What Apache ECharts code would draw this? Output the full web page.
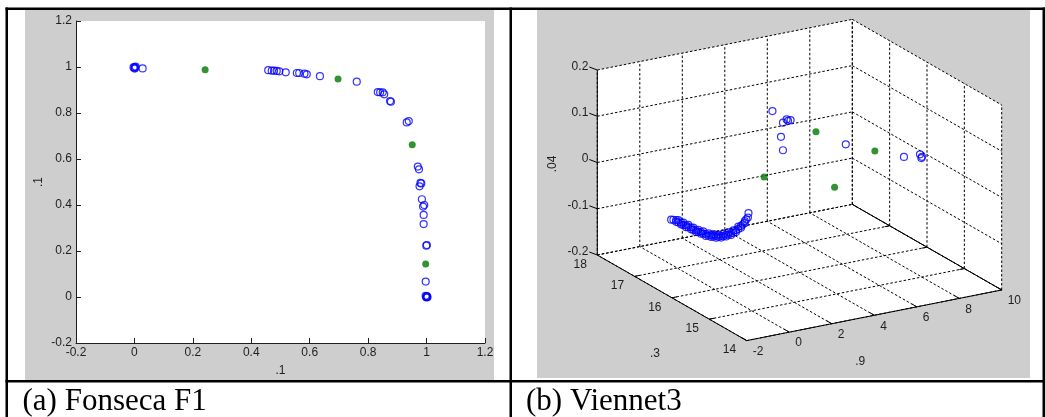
<!DOCTYPE html>
<html>
<head>
<meta charset="utf-8">
<title>Fonseca F1 / Viennet3</title>
<script src="https://cdn.jsdelivr.net/npm/echarts@6/dist/echarts.min.js"></script>
<style>
  html, body { margin: 0; padding: 0; background: #ffffff; }
  #chart { width: 1045px; height: 417px; }
</style>
</head>
<body>
<div id="chart"></div>
<script>
// ---------- (a) Fonseca F1: objective values ----------
// candidate solutions (open blue circles)
const fonsecaF1 = [0.000, 0.002, -0.003, 0.004, 0.001, 0.028, 0.458, 0.470, 0.478, 0.487, 0.496, 0.518,
  0.556, 0.564, 0.582, 0.590, 0.635, 0.761, 0.833, 0.841, 0.850, 0.855, 0.875, 0.878,
  0.932, 0.939, 0.970, 0.974, 0.979, 0.982, 0.976, 0.984, 0.992, 0.988, 0.990, 0.990,
  0.999, 1.001, 0.997, 1.000, 0.997, 1.002, 0.999, 1.003, 1.001];
const fonsecaF2 = [1.000, 0.996, 0.998, 1.002, 0.993, 0.994, 0.986, 0.984, 0.984, 0.983, 0.981, 0.977,
  0.974, 0.974, 0.971, 0.968, 0.960, 0.936, 0.891, 0.890, 0.890, 0.881, 0.852, 0.849,
  0.759, 0.765, 0.567, 0.555, 0.496, 0.494, 0.481, 0.425, 0.400, 0.393, 0.357, 0.317,
  0.223, 0.226, 0.067, 0.000, 0.005, 0.002, -0.002, -0.001, 0.004];
// selected solutions (filled green dots)
const fonsecaSelF1 = [0.242, 0.697, 0.951, 0.997];
const fonsecaSelF2 = [0.988, 0.948, 0.662, 0.143];
const fonsecaTicks = [-0.2, 0, 0.2, 0.4, 0.6, 0.8, 1, 1.2];

// ---------- (b) Viennet3: objective values ----------
const viennetF1 = [
  0.00, 0.04, 0.08, 0.12, 0.16, 0.20, 0.24, 0.28, 0.32, 0.36, 0.40, 0.44, 0.48, 0.52, 0.56, 0.60, 0.64,
  0.04, 0.08, 0.12, 0.16, 0.20, 0.24, 0.28, 0.32, 0.36, 0.40, 0.44, 0.48, 0.52, 0.56, 0.60,
  0.02, 0.06, 0.10, 0.14, 0.18, 0.22, 0.26, 0.30, 0.34, 0.38, 0.42, 0.46, 0.50, 0.54, 0.58, 0.62,
  0.06, 0.10, 0.14, 0.18, 0.22, 0.26, 0.30, 0.34, 0.38, 0.42, 0.46, 0.50, 0.54,
  0.65,
  1.90, 1.60, 1.50, 1.70, 1.65, 1.30, 1.20, 5.00, 7.00, 8.00, 8.20, 8.10];
const viennetF2 = [
  17.16, 17.05, 16.94, 16.83, 16.72, 16.61, 16.50, 16.39, 16.27, 16.16, 16.05, 15.94, 15.83, 15.72, 15.61, 15.53, 15.47,
  17.05, 16.94, 16.83, 16.72, 16.61, 16.50, 16.39, 16.27, 16.16, 16.05, 15.94, 15.83, 15.72, 15.61, 15.53,
  17.11, 17.00, 16.89, 16.78, 16.67, 16.56, 16.45, 16.33, 16.22, 16.11, 16.00, 15.89, 15.78, 15.67, 15.57, 15.50,
  17.00, 16.89, 16.78, 16.67, 16.56, 16.45, 16.33, 16.22, 16.11, 16.00, 15.89, 15.78, 15.67,
  15.46,
  15.53, 14.98, 15.02, 14.93, 14.97, 14.96, 14.85, 15.33, 14.91, 15.05, 15.11, 15.07];
const viennetF3 = [
  -0.103, -0.103, -0.104, -0.105, -0.105, -0.106, -0.105, -0.105, -0.102, -0.099, -0.094, -0.087, -0.079, -0.068, -0.054, -0.040, -0.026,
  -0.099, -0.100, -0.101, -0.101, -0.102, -0.101, -0.101, -0.098, -0.095, -0.090, -0.083, -0.075, -0.064, -0.050, -0.036,
  -0.101, -0.102, -0.103, -0.103, -0.104, -0.104, -0.103, -0.102, -0.099, -0.095, -0.089, -0.081, -0.072, -0.059, -0.045, -0.031,
  -0.097, -0.098, -0.098, -0.099, -0.099, -0.098, -0.097, -0.094, -0.090, -0.084, -0.076, -0.067, -0.054,
  -0.016,
  0.190, 0.200, 0.192, 0.200, 0.197, 0.166, 0.143, 0.099, 0.073, 0.063, 0.053, 0.053];
const viennetSelF1 = [3.00, 6.00, 1.00, 4.00];
const viennetSelF2 = [14.99, 15.12, 15.24, 15.06];
const viennetSelF3 = [0.160, 0.085, 0.069, 0.028];
const viennetXTicks = [-2, 0, 2, 4, 6, 8, 10];
const viennetYTicks = [14, 15, 16, 17, 18];
const viennetZTicks = [-0.2, -0.1, 0, 0.1, 0.2];

// ---------- styling ----------
const TICK_FAMILY = '"Liberation Sans", Arial, sans-serif';
const TICK_FONT = '12px ' + TICK_FAMILY;
const CAPTION_FONT = '31px "Liberation Serif", "Times New Roman", serif';
const INK = '#1e1e1e';
const PANEL_GRAY = '#cecece';
const BLUE = '#0000ff';
const GREEN = '#007800';

// ---------- orthographic view of the Viennet3 box ----------
// Box limits and the on-screen step for one unit along each data axis,
// measured from the corner (x min, y max, z min) in grid units (= pixels).
const BOX = { x: [-2, 10], y: [14, 18], z: [-0.2, 0.2] };
const VIEW = { origin: [60.3, 245], ex: [21.25, -4.22], ey: [-37.35, -21.4], ez: [0, -462.5] };
const CUBE_GRID = { left: 537, top: 10, width: 493, height: 368 };

function project(x, y, z) {
  const dx = x - BOX.x[0], dy = y - BOX.y[1], dz = z - BOX.z[0];
  return [
    VIEW.origin[0] + VIEW.ex[0] * dx + VIEW.ey[0] * dy + VIEW.ez[0] * dz,
    VIEW.origin[1] + VIEW.ex[1] * dx + VIEW.ey[1] * dy + VIEW.ez[1] * dz
  ];
}

// box panes, dotted grid, axis lines, ticks and tick labels
const frame = [];
(function buildFrame() {
  const [x0, x1] = BOX.x, [y0, y1] = BOX.y, [z0, z1] = BOX.z;
  frame.push({ t: 'pane', p: [[x0, y0, z0], [x1, y0, z0], [x1, y1, z0], [x0, y1, z0]] });
  frame.push({ t: 'pane', p: [[x0, y1, z0], [x1, y1, z0], [x1, y1, z1], [x0, y1, z1]] });
  frame.push({ t: 'pane', p: [[x1, y0, z0], [x1, y1, z0], [x1, y1, z1], [x1, y0, z1]] });
  viennetXTicks.forEach(x => {
    frame.push({ t: 'grid', a: [x, y0, z0], b: [x, y1, z0] });
    frame.push({ t: 'grid', a: [x, y1, z0], b: [x, y1, z1] });
  });
  viennetYTicks.forEach(y => {
    frame.push({ t: 'grid', a: [x0, y, z0], b: [x1, y, z0] });
    frame.push({ t: 'grid', a: [x1, y, z0], b: [x1, y, z1] });
  });
  viennetZTicks.forEach(z => {
    frame.push({ t: 'grid', a: [x0, y1, z], b: [x1, y1, z] });
    frame.push({ t: 'grid', a: [x1, y1, z], b: [x1, y0, z] });
  });
  frame.push({ t: 'axis', a: [x0, y1, z0], b: [x0, y1, z1] });
  frame.push({ t: 'axis', a: [x0, y1, z0], b: [x0, y0, z0] });
  frame.push({ t: 'axis', a: [x0, y0, z0], b: [x1, y0, z0] });
  frame.push({ t: 'axis', a: [x1, y1, z0], b: [x1, y0, z0] });
  viennetZTicks.forEach(z => {
    frame.push({ t: 'tick', a: [x0, y1, z], d: [-8, -3] });
    frame.push({ t: 'text', a: [x0, y1, z], off: [-9, -3.5], s: String(z), align: 'right' });
  });
  viennetXTicks.forEach(x => {
    frame.push({ t: 'tick', a: [x, y0, z0], d: [-5, -3] });
    frame.push({ t: 'text', a: [x, y0, z0], off: [6, 11], s: String(x), align: 'left' });
  });
  viennetYTicks.forEach(y => {
    if (y > y0 && y < y1) {
      frame.push({ t: 'tick', a: [x0, y, z0], d: [5, -1] });
      frame.push({ t: 'tick', a: [x1, y, z0], d: [-5, 1] });
    }
    frame.push({ t: 'text', a: [x0, y, z0], off: [-10.5, 9.5], s: String(y), align: 'right' });
  });
  frame.push({ t: 'text', a: [(x0 + x1) / 2, y0, z0], off: [-14, 46], s: '.9', align: 'center' });
  frame.push({ t: 'text', a: [x0, (y0 + y1) / 2, z0], off: [-17, 56], s: '.3', align: 'center' });
  frame.push({ t: 'text', a: [x0, y1, (z0 + z1) / 2], off: [-44.6, 1.5], s: '.04', align: 'center', rot: Math.PI / 2 });
})();

function renderFrame(params, api) {
  const d = frame[params.dataIndex];
  const P = c => api.coord(project(c[0], c[1], c[2]));
  if (d.t === 'pane') {
    return { type: 'polygon', silent: true, shape: { points: d.p.map(P) }, style: { fill: '#ffffff' } };
  }
  if (d.t === 'grid' || d.t === 'axis') {
    const a = P(d.a), b = P(d.b);
    return {
      type: 'line', silent: true,
      shape: { x1: a[0], y1: a[1], x2: b[0], y2: b[1] },
      style: d.t === 'grid'
        ? { stroke: '#000000', lineWidth: 1, lineDash: [2.5, 2] }
        : { stroke: '#000000', lineWidth: 1 }
    };
  }
  if (d.t === 'tick') {
    const a = P(d.a);
    return {
      type: 'line', silent: true,
      shape: { x1: a[0], y1: a[1], x2: a[0] + d.d[0], y2: a[1] + d.d[1] },
      style: { stroke: '#000000', lineWidth: 1 }
    };
  }
  const a = P(d.a);
  return {
    type: 'text', silent: true,
    x: a[0] + d.off[0], y: a[1] + d.off[1], rotation: d.rot || 0,
    style: { text: d.s, fill: INK, font: TICK_FONT, align: d.align, verticalAlign: 'middle' }
  };
}

const zip2 = (a, b) => a.map((v, i) => [v, b[i]]);
const cube = (a, b, c) => a.map((v, i) => project(v, b[i], c[i]));

const openCircle = { color: 'rgba(0,0,0,0)', borderColor: BLUE, borderWidth: 1.2 };
const greenDot = { color: GREEN };

const fmt = v => String(+v.toFixed(1));

const option = {
  animation: false,
  backgroundColor: '#ffffff',
  graphic: [
    { type: 'rect', z: -10, silent: true, shape: { x: 25, y: 10, width: 469, height: 370 }, style: { fill: PANEL_GRAY } },
    { type: 'rect', z: -9, silent: true, shape: { x: 76, y: 21, width: 409, height: 322 }, style: { fill: '#ffffff' } },
    { type: 'rect', z: -10, silent: true, shape: { x: CUBE_GRID.left, y: CUBE_GRID.top, width: CUBE_GRID.width, height: CUBE_GRID.height }, style: { fill: PANEL_GRAY } },
    // table rules
    { type: 'rect', z: 50, silent: true, shape: { x: 5.5, y: 7.5, width: 1039.5, height: 2.5 }, style: { fill: '#000000' } },
    { type: 'rect', z: 50, silent: true, shape: { x: 5.5, y: 380, width: 1039.5, height: 2.5 }, style: { fill: '#000000' } },
    { type: 'rect', z: 50, silent: true, shape: { x: 5.5, y: 7.5, width: 2.5, height: 409.5 }, style: { fill: '#000000' } },
    { type: 'rect', z: 50, silent: true, shape: { x: 509.5, y: 7.5, width: 2.5, height: 409.5 }, style: { fill: '#000000' } },
    { type: 'rect', z: 50, silent: true, shape: { x: 1042.5, y: 7.5, width: 2.5, height: 409.5 }, style: { fill: '#000000' } },
    // captions
    { type: 'text', z: 50, silent: true, x: 22.5, y: 401.5, style: { text: '(a) Fonseca F1', font: CAPTION_FONT, fill: '#000000', align: 'left', verticalAlign: 'middle' } },
    { type: 'text', z: 50, silent: true, x: 526, y: 401.5, style: { text: '(b) Viennet3', font: CAPTION_FONT, fill: '#000000', align: 'left', verticalAlign: 'middle' } }
  ],
  grid: [
    { left: 76, top: 21, width: 409, height: 322, show: false },
    { left: CUBE_GRID.left, top: CUBE_GRID.top, width: CUBE_GRID.width, height: CUBE_GRID.height, show: false }
  ],
  xAxis: [
    {
      gridIndex: 0, type: 'value',
      min: fonsecaTicks[0], max: fonsecaTicks[fonsecaTicks.length - 1], interval: 0.2,
      name: '.1', nameLocation: 'middle', nameGap: 22,
      nameTextStyle: { color: INK, fontSize: 12, fontFamily: TICK_FAMILY },
      axisLine: { onZero: false, lineStyle: { color: INK, width: 1 } },
      axisTick: { inside: true, length: 5, lineStyle: { color: INK } },
      axisLabel: { color: INK, fontSize: 12, fontFamily: TICK_FAMILY, margin: 4, formatter: fmt, showMinLabel: true, showMaxLabel: true },
      splitLine: { show: false }
    },
    { gridIndex: 1, type: 'value', min: 0, max: CUBE_GRID.width, show: false }
  ],
  yAxis: [
    {
      gridIndex: 0, type: 'value',
      min: fonsecaTicks[0], max: fonsecaTicks[fonsecaTicks.length - 1], interval: 0.2,
      name: '.1', nameLocation: 'middle', nameGap: 31,
      nameTextStyle: { color: INK, fontSize: 12, fontFamily: TICK_FAMILY },
      axisLine: { onZero: false, lineStyle: { color: INK, width: 1 } },
      axisTick: { inside: true, length: 5, lineStyle: { color: INK } },
      axisLabel: { color: INK, fontSize: 12, fontFamily: TICK_FAMILY, margin: 4, formatter: fmt, showMinLabel: true, showMaxLabel: true },
      splitLine: { show: false }
    },
    { gridIndex: 1, type: 'value', min: 0, max: CUBE_GRID.height, inverse: true, show: false }
  ],
  series: [
    {
      type: 'scatter', xAxisIndex: 0, yAxisIndex: 0, silent: true, z: 3,
      symbol: 'circle', symbolSize: 7, itemStyle: openCircle,
      data: zip2(fonsecaF1, fonsecaF2)
    },
    {
      type: 'scatter', xAxisIndex: 0, yAxisIndex: 0, silent: true, z: 4,
      symbol: 'circle', symbolSize: 7, itemStyle: greenDot,
      data: zip2(fonsecaSelF1, fonsecaSelF2)
    },
    {
      type: 'custom', xAxisIndex: 1, yAxisIndex: 1, silent: true, z: 1, clip: false,
      renderItem: renderFrame,
      data: frame.map((_, i) => [i, 0])
    },
    {
      type: 'scatter', xAxisIndex: 1, yAxisIndex: 1, silent: true, z: 3,
      symbol: 'circle', symbolSize: 7, itemStyle: openCircle,
      data: cube(viennetF1, viennetF2, viennetF3)
    },
    {
      type: 'scatter', xAxisIndex: 1, yAxisIndex: 1, silent: true, z: 4,
      symbol: 'circle', symbolSize: 7, itemStyle: greenDot,
      data: cube(viennetSelF1, viennetSelF2, viennetSelF3)
    }
  ]
};

const chart = echarts.init(document.getElementById('chart'), null, { renderer: 'canvas' });
chart.setOption(option);
</script>
</body>
</html>
